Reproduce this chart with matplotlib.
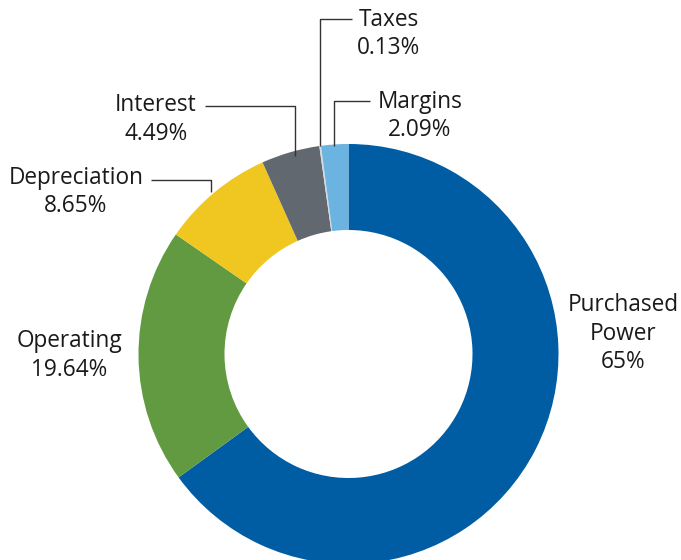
import matplotlib
matplotlib.use("Agg")
import matplotlib.pyplot as plt

categories = ["Purchased\nPower", "Operating", "Depreciation", "Interest", "Taxes", "Margins"]
values = [65.0, 19.64, 8.65, 4.49, 0.13, 2.09]
value_labels = ["65%", "19.64%", "8.65%", "4.49%", "0.13%", "2.09%"]
colors = ["#005DA4", "#629A41", "#F0C620", "#626870", "#D5D8DC", "#6BB3E0"]

W, H = 681, 560
fig = plt.figure(figsize=(W / 100, H / 100), dpi=100)
ax = fig.add_axes([0, 0, 1, 1])

cx, cy, R = 348.5, H - 354, 210
ax.pie(values, colors=colors, startangle=90, counterclock=False,
       center=(cx, cy), radius=R, wedgeprops=dict(width=86, linewidth=0),
       frame=True)
ax.set_xlim(0, W)
ax.set_ylim(0, H)
ax.set_aspect("equal")
ax.axis("off")

def Y(p):
    return H - p

fs = 16.3
tc = "#1a1a1a"
font = "Open Sans"

lab_pos = {
    "Purchased\nPower": (623, 305, "center"),
    "Operating": (69, 341, "center"),
    "Depreciation": (76, 178, "center"),
    "Interest": (156, 105, "center"),
    "Taxes": (389, 20, "center"),
    "Margins": (420, 102, "center"),
}
lh = 28.5
for cat, vl in zip(categories, value_labels):
    x, y, ha = lab_pos[cat]
    lines = cat.split("\n") + [vl]
    for i, line in enumerate(lines):
        ax.text(x, Y(y + i * lh), line, ha=ha, va="center", fontsize=fs,
                color=tc, family=font)

lc = "#333333"
lw = 1.0
leaders = [
    [(320, 146), (320, 19), (352, 19)],      # Taxes
    [(334, 146), (334, 101), (370, 101)],    # Margins
    [(295, 156), (295, 106), (205, 106)],    # Interest
    [(211, 192), (211, 180), (151, 180)],    # Depreciation
]
for pts in leaders:
    xs = [p[0] for p in pts]
    ys = [Y(p[1]) for p in pts]
    ax.plot(xs, ys, color=lc, lw=lw, solid_capstyle="butt")

fig.savefig("out.png", dpi=100)
